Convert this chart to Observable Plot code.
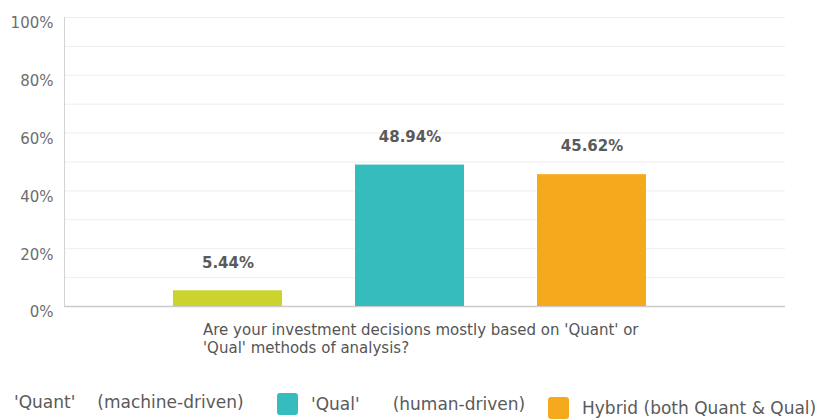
<!DOCTYPE html>
<html>
<head>
<meta charset="utf-8">
<script src="https://cdn.jsdelivr.net/npm/d3@7"></script>
<script src="https://cdn.jsdelivr.net/npm/@observablehq/plot@0.6"></script>
<style>
  html, body { margin: 0; padding: 0; background: #fff; }
  body { width: 822px; height: 419px; overflow: hidden; font-family: "DejaVu Sans", sans-serif; }
  #chart svg { overflow: visible; display: block; }
  #question { color: #555; font-size: 15px; line-height: 18px; padding-left: 203px; height: 68px; box-sizing: border-box; white-space: nowrap; }
  #legend { position: relative; height: 30px; color: #5a5a5a; font-size: 17px; }
  .item { position: absolute; top: 0; height: 30px; display: flex; align-items: center; white-space: nowrap; }
  .sw { width: 21px; height: 22px; border-radius: 3px; margin-right: 13px; }
</style>
</head>
<body>
<div id="chart"></div>
<div id="question"></div>
<div id="legend"></div>
<script>
const categories = ["'Quant' (machine-driven)", "'Qual' (human-driven)", "Hybrid (both Quant & Qual)"];
const values = [5.44, 48.94, 45.62];
const colors = ["#cad42c", "#35bcbd", "#f5aa1e"];
const legendNames = ["'Quant'", "'Qual'", "Hybrid (both Quant & Qual)"];
const legendNotes = ["(machine-driven)", "(human-driven)", ""];
const yTicks = [0, 20, 40, 60, 80, 100];
const gridTicks = [10, 20, 30, 40, 50, 60, 70, 80, 90, 100];
const questionLines = ["Are your investment decisions mostly based on 'Quant' or", "'Qual' methods of analysis?"];

const data = categories.map((c, i) => ({category: c, value: values[i]}));

const chart = Plot.plot({
  width: 822,
  height: 321,
  marginLeft: 64,
  marginRight: 37,
  marginTop: 17,
  marginBottom: 15,
  style: {fontFamily: "DejaVu Sans, sans-serif", background: "#fff"},
  x: {domain: categories, range: [137, 683], paddingInner: 0.4, paddingOuter: 0.2, axis: null},
  y: {domain: [0, 100], axis: null},
  color: {domain: categories, range: colors},
  marks: [
    Plot.ruleY(gridTicks, {stroke: "#eeeeee", strokeWidth: 1}),
    Plot.ruleY([0], {stroke: "#cccccc", strokeWidth: 1.5}),
    Plot.frame({anchor: "left", stroke: "#d3d3d3"}),
    Plot.axisY(yTicks, {label: null, tickSize: 0, tickPadding: 11, tickFormat: d => d + "%", fill: "#6e6e6e", fontSize: 15, dy: 6, textAnchor: "end"}),
    Plot.barY(data, {x: "category", y: "value", fill: "category"}),
    Plot.text(data, {x: "category", y: "value", text: d => d.value.toFixed(2) + "%", dy: -28, fill: "#5a5a5a", fontSize: 15, fontWeight: "bold"})
  ]
});
document.getElementById("chart").appendChild(chart);

const q = document.getElementById("question");
questionLines.forEach(l => { const d = document.createElement("div"); d.textContent = l; q.appendChild(d); });

const legend = document.getElementById("legend");
const itemLeft = [14, 277, 548];
const itemDy = [-2, 0, 4];
const noteGap = [22, 33, 0];
legendNames.forEach((name, i) => {
  const it = document.createElement("div");
  it.className = "item";
  it.style.left = itemLeft[i] + "px";
  it.style.top = itemDy[i] + "px";
  if (i > 0) {
    const sw = document.createElement("div");
    sw.className = "sw";
    sw.style.background = colors[i];
    it.appendChild(sw);
  }
  const t = document.createElement("span");
  t.textContent = name;
  it.appendChild(t);
  if (legendNotes[i]) {
    const n = document.createElement("span");
    n.style.marginLeft = noteGap[i] + "px";
    n.textContent = legendNotes[i];
    it.appendChild(n);
  }
  legend.appendChild(it);
});
</script>
</body>
</html>
